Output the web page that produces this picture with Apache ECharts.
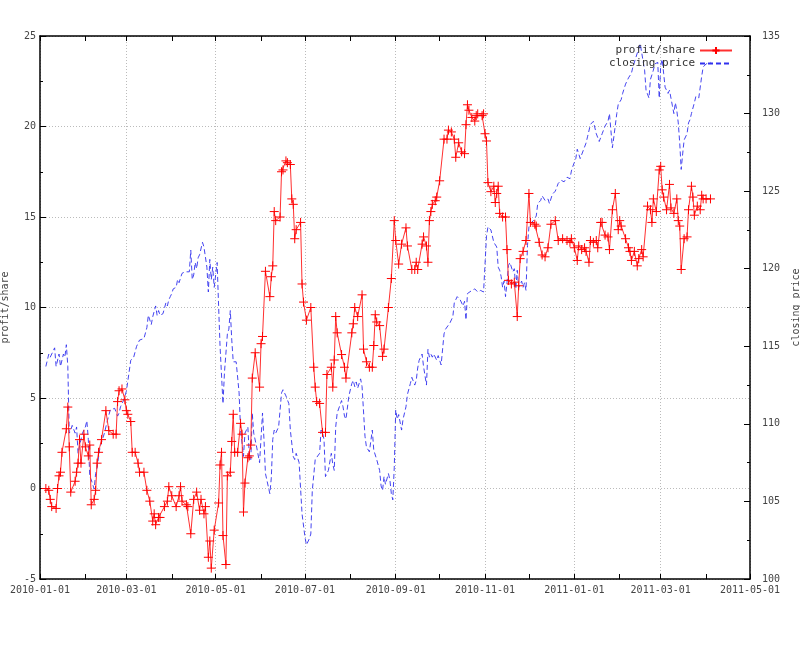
<!DOCTYPE html>
<html>
<head>
<meta charset="utf-8">
<script src="https://cdn.jsdelivr.net/npm/echarts@6/dist/echarts.min.js"></script>
<style>
  html, body { margin: 0; padding: 0; background: #fff; }
  #main { width: 800px; height: 659px; }
</style>
</head>
<body>
<div id="main"></div>
<script>
// profit/share, one line per month
var profitDates = [
  '2010-01-05','2010-01-07','2010-01-08','2010-01-09','2010-01-12','2010-01-13','2010-01-14','2010-01-15','2010-01-16','2010-01-19','2010-01-20','2010-01-21','2010-01-22','2010-01-25','2010-01-26','2010-01-27','2010-01-28','2010-01-29','2010-01-31',
  '2010-02-01','2010-02-03','2010-02-04','2010-02-05','2010-02-07','2010-02-08','2010-02-09','2010-02-10','2010-02-12','2010-02-15','2010-02-17','2010-02-20','2010-02-22','2010-02-23','2010-02-24','2010-02-26','2010-02-28',
  '2010-03-01','2010-03-02','2010-03-04','2010-03-05','2010-03-07','2010-03-09','2010-03-10','2010-03-13','2010-03-15','2010-03-17','2010-03-19','2010-03-20','2010-03-21','2010-03-23','2010-03-24','2010-03-27','2010-03-29','2010-03-30',
  '2010-04-01','2010-04-04','2010-04-06','2010-04-07','2010-04-08','2010-04-11','2010-04-12','2010-04-14','2010-04-16','2010-04-18','2010-04-20','2010-04-21','2010-04-23','2010-04-24','2010-04-26','2010-04-27','2010-04-28','2010-04-30',
  '2010-05-03','2010-05-04','2010-05-05','2010-05-06','2010-05-08','2010-05-09','2010-05-11','2010-05-12','2010-05-13','2010-05-14','2010-05-16','2010-05-18','2010-05-19','2010-05-20','2010-05-21','2010-05-23','2010-05-24','2010-05-25','2010-05-26','2010-05-28','2010-05-31',
  '2010-06-01','2010-06-02','2010-06-04','2010-06-07','2010-06-08','2010-06-09','2010-06-10','2010-06-11','2010-06-14','2010-06-15','2010-06-16','2010-06-18','2010-06-19','2010-06-21','2010-06-22','2010-06-23','2010-06-24','2010-06-25','2010-06-28','2010-06-29','2010-06-30',
  '2010-07-02','2010-07-05','2010-07-07','2010-07-08','2010-07-09','2010-07-11','2010-07-13','2010-07-15','2010-07-16','2010-07-19','2010-07-20','2010-07-21','2010-07-22','2010-07-23','2010-07-26','2010-07-28','2010-07-29',
  '2010-08-02','2010-08-03','2010-08-04','2010-08-06','2010-08-09','2010-08-10','2010-08-12','2010-08-14','2010-08-16','2010-08-17','2010-08-18','2010-08-19','2010-08-21','2010-08-23','2010-08-24','2010-08-27','2010-08-29','2010-08-31',
  '2010-09-01','2010-09-03','2010-09-05','2010-09-08','2010-09-09','2010-09-12','2010-09-14','2010-09-15','2010-09-16','2010-09-19','2010-09-20','2010-09-22','2010-09-23','2010-09-24','2010-09-25','2010-09-26','2010-09-28','2010-09-29',
  '2010-10-01','2010-10-04','2010-10-06','2010-10-07','2010-10-09','2010-10-11','2010-10-12','2010-10-14','2010-10-16','2010-10-18','2010-10-19','2010-10-20','2010-10-21','2010-10-23','2010-10-25','2010-10-26','2010-10-27','2010-10-30','2010-10-31',
  '2010-11-01','2010-11-02','2010-11-03','2010-11-05','2010-11-07','2010-11-08','2010-11-09','2010-11-10','2010-11-11','2010-11-13','2010-11-15','2010-11-16','2010-11-17','2010-11-19','2010-11-21','2010-11-23','2010-11-24','2010-11-25','2010-11-27','2010-11-29',
  '2010-12-01','2010-12-02','2010-12-05','2010-12-06','2010-12-08','2010-12-10','2010-12-12','2010-12-14','2010-12-16','2010-12-19','2010-12-21','2010-12-24','2010-12-27','2010-12-29','2010-12-30',
  '2011-01-01','2011-01-03','2011-01-04','2011-01-06','2011-01-08','2011-01-09','2011-01-11','2011-01-12','2011-01-14','2011-01-16','2011-01-17','2011-01-19','2011-01-20','2011-01-22','2011-01-24','2011-01-25','2011-01-27','2011-01-29','2011-01-31',
  '2011-02-01','2011-02-02','2011-02-05','2011-02-07','2011-02-08','2011-02-09','2011-02-11','2011-02-13','2011-02-14','2011-02-16','2011-02-17','2011-02-20','2011-02-22','2011-02-23','2011-02-24','2011-02-26','2011-02-28',
  '2011-03-01','2011-03-02','2011-03-03','2011-03-05','2011-03-07','2011-03-08','2011-03-10','2011-03-12','2011-03-13','2011-03-14','2011-03-15','2011-03-17','2011-03-19','2011-03-20','2011-03-22','2011-03-23','2011-03-24','2011-03-26','2011-03-28','2011-03-29','2011-03-30',
  '2011-04-01','2011-04-04'
];
var profitValues = [
  0.0,-0.1,-0.6,-1.0,-1.1,0.0,0.7,0.9,2.0,3.3,4.5,2.3,-0.2,0.4,0.9,1.4,2.7,1.4,3.0,
  2.3,1.8,2.4,-0.9,-0.6,-0.1,1.4,2.0,2.7,4.3,3.2,3.0,3.0,4.8,5.4,5.5,4.9,
  4.3,4.1,3.7,2.0,2.0,1.4,0.9,0.9,-0.1,-0.7,-1.8,-1.4,-2.0,-1.6,-1.6,-1.0,-0.7,0.1,
  -0.4,-1.0,-0.4,0.1,-0.7,-0.9,-1.0,-2.5,-0.6,-0.2,-1.2,-0.6,-1.4,-1.0,-3.8,-2.9,-4.4,-2.3,
  -0.8,1.3,2.0,-2.6,-4.2,0.7,0.9,2.6,4.1,2.0,2.0,3.6,3.0,-1.3,0.3,1.7,1.8,2.4,6.1,7.5,5.6,
  8.0,8.4,12.0,10.6,11.7,12.3,15.3,14.8,15.0,17.5,17.6,18.1,18.0,17.9,16.0,15.7,13.8,14.3,14.7,11.3,10.3,
  9.3,10.0,6.7,5.6,4.8,4.7,3.1,3.1,6.3,6.7,5.6,7.1,9.5,8.6,7.4,6.7,6.1,
  8.6,9.1,10.0,9.5,10.7,7.7,7.0,6.7,6.7,7.9,9.6,9.2,9.0,7.3,7.7,10.0,11.6,14.8,
  13.7,12.4,13.5,14.4,13.4,12.1,12.1,12.5,12.1,13.5,13.9,13.4,12.5,14.8,15.3,15.7,15.9,16.1,
  17.0,19.3,19.3,19.8,19.7,19.3,18.3,19.1,18.6,18.5,20.1,21.2,20.9,20.5,20.3,20.6,20.7,20.6,20.7,
  19.6,19.2,16.9,16.4,16.7,15.8,16.3,16.7,15.2,15.0,15.0,13.2,11.5,11.3,11.4,9.5,11.2,12.7,13.1,13.7,
  16.3,14.7,14.6,14.5,13.6,12.9,12.8,13.3,14.6,14.8,13.7,13.8,13.7,13.6,13.8,
  13.3,12.6,13.4,13.2,13.3,13.1,12.5,13.7,13.6,13.7,13.3,14.7,14.7,14.0,13.9,13.2,15.4,16.3,14.3,
  14.8,14.5,13.8,13.3,13.1,12.6,13.1,12.3,12.7,13.2,12.8,15.6,15.4,14.7,16.0,15.3,17.6,
  17.8,16.5,16.1,15.4,16.8,15.5,15.2,16.0,14.8,14.5,12.1,13.8,13.9,15.4,16.7,16.1,15.1,15.6,15.4,16.2,16.0,
  16.0,16.0
];

// closing price, one line per month
var priceDates = [
  '2010-01-05','2010-01-07','2010-01-08','2010-01-11','2010-01-12','2010-01-14','2010-01-15','2010-01-17','2010-01-18','2010-01-19','2010-01-20','2010-01-21','2010-01-22','2010-01-23','2010-01-25','2010-01-26','2010-01-27','2010-01-29','2010-01-30',
  '2010-02-01','2010-02-02','2010-02-03','2010-02-04','2010-02-05','2010-02-07','2010-02-08','2010-02-09','2010-02-11','2010-02-14','2010-02-16','2010-02-18','2010-02-21','2010-02-23','2010-02-24','2010-02-25','2010-02-27',
  '2010-03-01','2010-03-04','2010-03-06','2010-03-08','2010-03-10','2010-03-13','2010-03-15','2010-03-16','2010-03-17','2010-03-18','2010-03-19','2010-03-21','2010-03-22','2010-03-23','2010-03-24','2010-03-26','2010-03-28','2010-03-29','2010-03-30','2010-03-31',
  '2010-04-01','2010-04-02','2010-04-04','2010-04-05','2010-04-06','2010-04-07','2010-04-08','2010-04-10','2010-04-11','2010-04-13','2010-04-14','2010-04-15','2010-04-16','2010-04-17','2010-04-18','2010-04-19','2010-04-20','2010-04-22','2010-04-23','2010-04-24','2010-04-25','2010-04-26','2010-04-27','2010-04-28','2010-04-29','2010-04-30',
  '2010-05-02','2010-05-03','2010-05-04','2010-05-06','2010-05-07','2010-05-09','2010-05-10','2010-05-11','2010-05-12','2010-05-13','2010-05-15','2010-05-17','2010-05-18','2010-05-20','2010-05-21','2010-05-23','2010-05-24','2010-05-25','2010-05-26','2010-05-27','2010-05-29','2010-05-31',
  '2010-06-02','2010-06-03','2010-06-04','2010-06-07','2010-06-08','2010-06-09','2010-06-10','2010-06-11','2010-06-12','2010-06-13','2010-06-15','2010-06-16','2010-06-18','2010-06-20','2010-06-21','2010-06-23','2010-06-24','2010-06-25','2010-06-27','2010-06-29',
  '2010-07-01','2010-07-02','2010-07-04','2010-07-05','2010-07-06','2010-07-08','2010-07-11','2010-07-12','2010-07-13','2010-07-14','2010-07-15','2010-07-17','2010-07-19','2010-07-20','2010-07-21','2010-07-22','2010-07-23','2010-07-26','2010-07-27','2010-07-28','2010-07-29','2010-07-31',
  '2010-08-02','2010-08-03','2010-08-04','2010-08-05','2010-08-06','2010-08-08','2010-08-09','2010-08-11','2010-08-12','2010-08-14','2010-08-15','2010-08-16','2010-08-17','2010-08-19','2010-08-21','2010-08-22','2010-08-23','2010-08-24','2010-08-25','2010-08-27','2010-08-28','2010-08-29','2010-08-30','2010-08-31',
  '2010-09-01','2010-09-02','2010-09-03','2010-09-05','2010-09-06','2010-09-08','2010-09-09','2010-09-11','2010-09-12','2010-09-14','2010-09-15','2010-09-16','2010-09-17','2010-09-19','2010-09-20','2010-09-22','2010-09-23','2010-09-24','2010-09-25','2010-09-26','2010-09-27','2010-09-29','2010-09-30',
  '2010-10-01','2010-10-02','2010-10-04','2010-10-05','2010-10-08','2010-10-10','2010-10-11','2010-10-13','2010-10-15','2010-10-17','2010-10-18','2010-10-19','2010-10-20','2010-10-23','2010-10-25','2010-10-27','2010-10-29','2010-10-31',
  '2010-11-02','2010-11-03','2010-11-05','2010-11-07','2010-11-09','2010-11-10','2010-11-11','2010-11-12','2010-11-13','2010-11-14','2010-11-15','2010-11-16','2010-11-17','2010-11-18','2010-11-20','2010-11-21','2010-11-22','2010-11-23','2010-11-24','2010-11-26','2010-11-27','2010-11-28','2010-11-29','2010-11-30',
  '2010-12-01','2010-12-02','2010-12-04','2010-12-06','2010-12-07','2010-12-09','2010-12-10','2010-12-12','2010-12-14','2010-12-15','2010-12-17','2010-12-19','2010-12-21','2010-12-23','2010-12-25','2010-12-27','2010-12-29','2010-12-30','2010-12-31',
  '2011-01-02','2011-01-03','2011-01-05','2011-01-06','2011-01-09','2011-01-10','2011-01-12','2011-01-14','2011-01-15','2011-01-16','2011-01-18','2011-01-20','2011-01-22','2011-01-24','2011-01-25','2011-01-26','2011-01-27','2011-01-28','2011-01-30','2011-01-31',
  '2011-02-02','2011-02-03','2011-02-05','2011-02-07','2011-02-09','2011-02-10','2011-02-12','2011-02-13','2011-02-15','2011-02-16','2011-02-18','2011-02-19','2011-02-21','2011-02-22','2011-02-24','2011-02-25','2011-02-27','2011-02-28',
  '2011-03-01','2011-03-02','2011-03-03','2011-03-04','2011-03-05','2011-03-06','2011-03-07','2011-03-09','2011-03-10','2011-03-11','2011-03-12','2011-03-13','2011-03-14','2011-03-15','2011-03-16','2011-03-17','2011-03-19','2011-03-20','2011-03-21','2011-03-22','2011-03-24','2011-03-25','2011-03-26','2011-03-27','2011-03-29','2011-03-30',
  '2011-04-01','2011-04-02','2011-04-04'
];
var priceValues = [
  113.7,114.5,114.3,114.9,113.7,114.5,113.7,114.5,114.3,115.1,113.7,109.4,109.6,109.9,109.4,109.8,108.1,109.0,109.4,
  109.8,110.2,109.0,106.6,106.4,105.8,106.8,107.2,108.5,109.4,110.2,110.9,111.0,110.5,110.7,111.1,111.5,
  112.1,114.1,114.3,115.0,115.4,115.5,116.2,117.0,116.7,116.4,116.9,117.6,117.0,117.3,117.0,117.1,117.8,117.6,118.0,118.2,
  118.4,118.7,118.8,119.3,119.1,119.4,119.7,119.8,119.9,119.8,121.2,119.3,119.6,120.4,120.0,120.7,120.9,121.7,121.4,121.5,120.1,118.5,120.6,119.3,120.1,118.8,
  120.4,117.6,115.0,111.3,113.3,115.8,116.1,117.3,115.4,114.0,114.0,112.0,109.6,107.9,109.4,109.8,107.9,107.7,110.7,109.4,108.5,107.5,
  110.7,109.0,106.8,105.5,106.5,109.0,109.6,109.4,109.6,109.8,112.0,112.2,111.8,111.3,109.6,107.9,107.7,108.1,107.5,104.2,
  102.7,102.2,102.6,102.9,105.7,107.7,108.1,109.6,109.4,109.0,106.6,107.0,108.1,107.4,107.0,109.8,110.7,111.5,111.1,110.5,110.3,111.8,
  112.6,112.8,112.4,112.7,112.3,112.9,112.4,109.2,108.5,108.2,108.3,109.6,108.3,107.7,107.0,106.0,105.7,106.6,106.1,106.8,106.4,105.5,105.1,107.2,
  110.9,110.3,110.6,109.6,110.3,111.1,111.9,112.6,113.0,112.5,112.8,113.6,114.1,114.5,113.7,112.5,114.8,114.3,114.5,114.3,114.5,114.1,114.4,
  114.5,113.8,115.8,116.1,116.5,116.9,117.8,118.2,118.0,117.6,117.9,116.7,118.4,118.6,118.7,118.5,118.6,118.5,
  122.1,122.7,122.5,121.7,121.4,120.1,119.9,119.5,118.8,119.2,118.2,119.1,120.2,120.4,119.8,120.0,118.7,119.9,118.8,119.2,118.8,119.1,118.6,121.5,
  122.7,122.9,123.1,123.4,124.2,124.4,124.7,124.4,124.5,124.2,124.8,125.0,125.5,125.7,125.6,125.9,125.8,126.3,126.6,
  127.1,127.7,127.1,127.0,128.1,128.5,129.3,129.5,129.6,128.7,128.2,128.7,129.2,129.5,130.0,128.9,127.8,128.5,130.0,130.6,
  130.9,131.3,131.9,132.3,132.6,133.0,133.6,133.9,134.5,134.6,132.8,131.5,131.0,132.2,132.8,133.2,133.3,131.0,
  133.1,133.5,132.6,131.7,131.5,131.3,131.5,130.5,130.0,130.7,130.2,129.4,128.1,126.4,127.4,128.3,128.7,129.4,129.6,130.0,130.7,131.1,131.2,131.0,132.4,133.0,
  133.2,133.3,133.3
];

// x ticks: small ones every month, labels + grid every two months
var monthTicks = ['2010-01-01','2010-02-01','2010-03-01','2010-04-01','2010-05-01','2010-06-01','2010-07-01','2010-08-01',
  '2010-09-01','2010-10-01','2010-11-01','2010-12-01','2011-01-01','2011-02-01','2011-03-01','2011-04-01','2011-05-01'];
var labelTicks = ['2010-01-01','2010-03-01','2010-05-01','2010-07-01','2010-09-01','2010-11-01','2011-01-01','2011-03-01','2011-05-01'];

var FONT = 'DejaVu Sans Mono';
var TXT = '#444';

function ts(s) { return +echarts.time.parse(s); }
function pairs(dates, vals) {
  return dates.map(function (d, i) { return [ts(d), vals[i]]; });
}

var chart = echarts.init(document.getElementById('main'));

var xMin = ts('2010-01-01'), xMax = ts('2011-05-01');
var monthVals = monthTicks.map(ts);
var labelVals = labelTicks.map(ts);

// x is a plain value axis holding timestamps, so custom tick lists can be used
function xAxisBase(extra) {
  var a = { type: 'value', min: xMin, max: xMax, scale: true };
  for (var k in extra) a[k] = extra[k];
  return a;
}

chart.setOption({
  animation: false,
  backgroundColor: '#fff',
  grid: { left: 40, right: 50, top: 36, bottom: 80, containLabel: false, outerBoundsMode: 'none' },
  legend: {
    data: [
      { name: 'profit/share' },
      { name: 'closing price', itemStyle: { opacity: 0 } }
    ],
    orient: 'vertical',
    right: 62,
    top: 40,
    align: 'right',
    itemWidth: 32,
    itemHeight: 9,
    itemGap: 2,
    textStyle: { fontFamily: FONT, fontSize: 11, color: '#333' }
  },
  xAxis: [xAxisBase({
    position: 'bottom',
    axisLine: { onZero: false, lineStyle: { color: '#000', width: 1.5 } },
    axisTick: { inside: true, length: 5, customValues: monthVals, lineStyle: { color: '#000' } },
    axisLabel: {
      customValues: labelVals,
      fontFamily: FONT, fontSize: 10, color: TXT, margin: 6,
      formatter: function (v) { return echarts.time.format(v, '{yyyy}-{MM}-{dd}', false); }
    },
    splitLine: { show: false }
  }), xAxisBase({
    position: 'top',
    axisLine: { onZero: false, lineStyle: { color: '#000', width: 1.5 } },
    axisTick: { inside: true, length: 5, customValues: monthVals, lineStyle: { color: '#000' } },
    axisLabel: { show: false },
    splitLine: { show: false }
  }), xAxisBase({
    // only carries the dotted vertical grid
    position: 'bottom',
    axisLine: { show: false, onZero: false },
    axisTick: { show: false, customValues: labelVals },
    axisLabel: { show: false, customValues: labelVals },
    splitLine: { show: true, lineStyle: { color: '#bbb', type: [1, 2], width: 1 } }
  })],
  yAxis: [{
    type: 'value',
    position: 'left',
    min: -5, max: 25, interval: 5,
    name: 'profit/share',
    nameLocation: 'middle',
    nameGap: 30,
    nameRotate: 90,
    nameTextStyle: { fontFamily: FONT, fontSize: 10, color: TXT },
    axisLine: { show: true, onZero: false, lineStyle: { color: '#000', width: 1.5 } },
    axisTick: { inside: true, length: 6, lineStyle: { color: '#000' } },
    minorTick: { show: true, splitNumber: 2, length: 3, lineStyle: { color: '#000' } },
    axisLabel: { fontFamily: FONT, fontSize: 10, color: TXT, margin: 4 },
    splitLine: { show: true, lineStyle: { color: '#bbb', type: [1, 2], width: 1 } }
  }, {
    type: 'value',
    position: 'right',
    min: 100, max: 135, interval: 5,
    name: 'closing price',
    nameLocation: 'middle',
    nameGap: 38,
    nameRotate: 90,
    nameTextStyle: { fontFamily: FONT, fontSize: 10, color: TXT },
    axisLine: { show: true, onZero: false, lineStyle: { color: '#000', width: 1.5 } },
    axisTick: { inside: true, length: 6, lineStyle: { color: '#000' } },
    minorTick: { show: true, splitNumber: 2, length: 3, lineStyle: { color: '#000' } },
    axisLabel: { fontFamily: FONT, fontSize: 10, color: TXT, margin: 12 },
    splitLine: { show: false }
  }],
  series: [{
    name: 'profit/share',
    type: 'line',
    xAxisIndex: 0,
    yAxisIndex: 0,
    data: pairs(profitDates, profitValues),
    showAllSymbol: true,
    symbol: 'path://M0,5L10,5M5,0L5,10',
    symbolSize: 9,
    itemStyle: { color: '#ff0000', borderColor: '#ff0000', borderWidth: 1 },
    lineStyle: { color: '#ff3030', width: 1 },
    z: 3
  }, {
    name: 'closing price',
    type: 'line',
    xAxisIndex: 0,
    yAxisIndex: 1,
    data: pairs(priceDates, priceValues),
    showSymbol: false,
    symbol: 'none',
    itemStyle: { color: '#3030ee' },
    lineStyle: { color: '#3030ee', width: 0.9, type: [5, 3] },
    z: 2
  }]
});
</script>
</body>
</html>
